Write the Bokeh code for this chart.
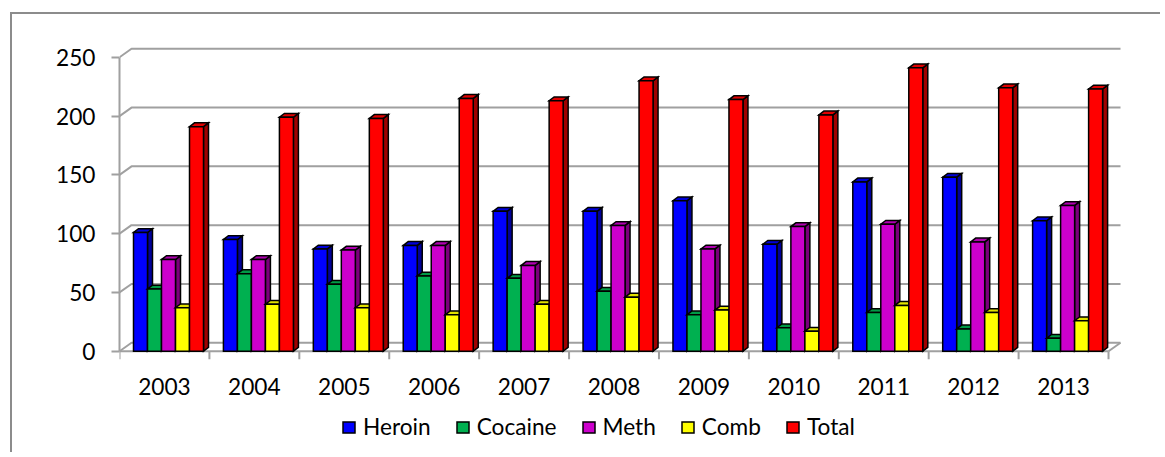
import numpy as np
from bokeh.plotting import figure
from bokeh.models import FixedTicker, Legend, LegendItem, InlineStyleSheet
from bokeh.core.properties import value
from bokeh.embed import file_html
from bokeh.resources import INLINE

# ---------------- data ----------------
years = ["2003", "2004", "2005", "2006", "2007", "2008", "2009", "2010", "2011", "2012", "2013"]
series_names = ["Heroin", "Cocaine", "Meth", "Comb", "Total"]
heroin = [101, 95, 87, 90, 119, 119, 128, 91, 144, 148, 111]
cocaine = [53, 66, 57, 64, 62, 51, 31, 20, 33, 19, 11]
meth = [78, 78, 86, 90, 73, 107, 87, 106, 108, 93, 124]
comb = [37, 40, 37, 31, 40, 46, 35, 17, 39, 33, 26]
total = [191, 199, 198, 215, 213, 230, 214, 201, 241, 224, 223]
y_ticks = [0, 50, 100, 150, 200, 250]

# ---------------- styles ----------------
front_colors = ["#0000FF", "#00B050", "#CC00CC", "#FFFF00", "#FF0000"]
top_colors = ["#0000D8", "#009A46", "#B000B0", "#E0E000", "#E00000"]
side_colors = ["#00009A", "#006B30", "#7A007A", "#9A9A00", "#A00000"]
grid_color = "#A0A0A0"
FONT = "Lato"
FSIZE = "17pt"

W, H = 1160, 452
ML, MR, MT, MB = 119, 34, 45, 0
frame_w = W - ML - MR
frame_h = H - MT - MB
XMAX = 11.2
px_x = frame_w / XMAX
px_y = 294.0 / 250.0
YMAX = 260.0
YMIN = YMAX - frame_h / px_y

# 3D offsets (pixels -> data units)
wall_dx = 12.0 / px_x
wall_dy = 8.5 / px_y
bar_dx = 5.0 / px_x
bar_dy = 3.8 / px_y
bar_w = 14.0 / px_x
bar_off = 14.0 / px_x
tick_len = 8.0 / px_y
label_y = -35.0 / px_y

p = figure(width=W, height=H, x_range=(0, XMAX), y_range=(YMIN, YMAX),
           output_backend="svg", toolbar_location=None,
           min_border_left=ML, min_border_right=MR,
           min_border_top=MT, min_border_bottom=MB)
p.xgrid.visible = False
p.ygrid.visible = False
p.xaxis.visible = False
p.outline_line_color = None
p.background_fill_color = "white"
p.border_fill_color = "white"

# chart-area border (left and top edges visible; right/bottom lie off-page)
p.stylesheets = [InlineStyleSheet(css="""
:host::after {
  content: "";
  position: absolute;
  left: 10px; top: 12px;
  width: 1150px; height: 440px;
  border-left: 2px solid #8C8C8C;
  border-top: 2px solid #8C8C8C;
  box-sizing: border-box;
  pointer-events: none;
}
""")]

# ---------------- walls / floor / gridlines ----------------
ncat = len(years)
gx, gy = [], []
for v in y_ticks:
    gx.append([0, wall_dx, ncat + wall_dx])
    gy.append([v, v + wall_dy, v + wall_dy])
gx.append([ncat, ncat + wall_dx])
gy.append([0, wall_dy])
gx.append([0, ncat])          # category axis line (front floor edge)
gy.append([0, 0])
p.multi_line(gx, gy, line_color=grid_color, line_width=2)

# category boundary ticks
bounds_x = np.arange(ncat + 1, dtype=float)
p.segment(x0=bounds_x, y0=np.zeros(ncat + 1), x1=bounds_x,
          y1=np.full(ncat + 1, -tick_len), line_color=grid_color, line_width=2)

# category labels
p.text(x=np.arange(ncat) + 0.5, y=np.full(ncat, label_y), text=years,
       text_font=value(FONT), text_font_size=FSIZE, text_color="black",
       text_align="center", text_baseline="middle")

# ---------------- bars ----------------
values = [heroin, cocaine, meth, comb, total]
items = []
xi = np.arange(ncat, dtype=float)
for j, (name, vals) in enumerate(zip(series_names, values)):
    v = np.array(vals, dtype=float)
    xl = xi + bar_off + j * bar_w
    xr = xl + bar_w
    side_xs = [[a, a + bar_dx, a + bar_dx, a] for a in xr]
    side_ys = [[0, bar_dy, h + bar_dy, h] for h in v]
    top_xs = [[a, b, b + bar_dx, a + bar_dx] for a, b in zip(xl, xr)]
    top_ys = [[h, h, h + bar_dy, h + bar_dy] for h in v]
    p.patches(side_xs, side_ys, fill_color=side_colors[j], line_color="black",
              line_width=1.5, line_join="miter")
    p.patches(top_xs, top_ys, fill_color=top_colors[j], line_color="black",
              line_width=1.5, line_join="miter")
    r = p.vbar(x=xl + bar_w / 2, width=bar_w, top=v, bottom=0,
               fill_color=front_colors[j], line_color="black", line_width=1.5,
               line_join="miter")
    items.append(LegendItem(label=name, renderers=[r]))

# ---------------- value axis ----------------
ya = p.yaxis[0]
ya.ticker = FixedTicker(ticks=y_ticks)
ya.bounds = (0, 250)
ya.axis_line_color = grid_color
ya.axis_line_width = 2
ya.major_tick_line_color = grid_color
ya.major_tick_line_width = 2
ya.major_tick_out = 8
ya.major_tick_in = 0
ya.minor_tick_line_color = None
ya.major_label_standoff = 16
ya.major_label_text_font = FONT
ya.major_label_text_font_size = FSIZE
ya.major_label_text_color = "black"

# ---------------- legend ----------------
legend = Legend(items=items, orientation="horizontal", location=(222, 12),
                padding=0, margin=0, spacing=24, label_standoff=7,
                glyph_width=15, glyph_height=14,
                border_line_color=None, background_fill_alpha=0,
                label_text_font=FONT, label_text_font_size=FSIZE,
                label_text_color="black")
p.add_layout(legend)

open("out.html", "w").write(file_html(p, INLINE))
